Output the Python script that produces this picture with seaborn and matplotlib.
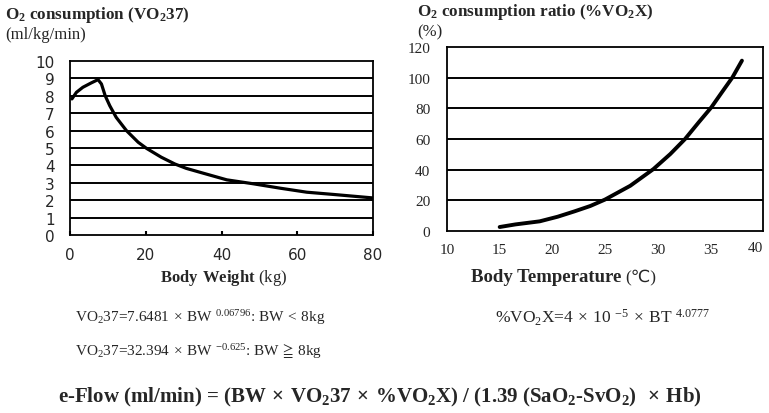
import numpy as np
import pandas as pd
import matplotlib
matplotlib.use("Agg")
import matplotlib.pyplot as plt
import seaborn as sns

# values
bw = [0.5, 1.7, 3.4, 5.6, 7.4, 8.3, 9.3, 10.5, 12.2, 14.9, 18.0, 20.2, 24.1, 27.7,
      30.7, 34.4, 41.4, 48.5, 55.5, 62.5, 69.6, 80.0]
vo2_37 = [7.82, 8.2, 8.49, 8.74, 8.93, 8.68, 8.0, 7.43, 6.76, 6.0, 5.33, 4.98, 4.47, 4.08,
          3.83, 3.6, 3.17, 2.94, 2.69, 2.46, 2.33, 2.13]
bt = [15.0, 16.5, 18.8, 20.5, 22.1, 23.6, 25.0, 27.4, 29.6, 31.2, 32.6, 33.9, 35.1,
      36.1, 37.1, 38.0]
vo2x = [2.6, 4.3, 6.3, 9.3, 12.8, 16.3, 20.5, 29.5, 40.4, 50.2, 60.0, 70.9, 80.7,
        90.5, 100.2, 111.1]

left_yticks = list(range(0, 11))
left_xticks = [0, 20, 40, 60, 80]
right_yticks = [0, 20, 40, 60, 80, 100, 120]
right_xticks = [10, 15, 20, 25, 30, 35, 40]

sns.set_theme(style="white")
plt.rcParams["font.family"] = ["Liberation Serif", "DejaVu Serif"]
plt.rcParams["mathtext.fontset"] = "custom"
plt.rcParams["mathtext.rm"] = "Liberation Serif"
plt.rcParams["mathtext.bf"] = "Liberation Serif:bold"
plt.rcParams["mathtext.default"] = "regular"
plt.rcParams["mathtext.fallback"] = "stix"

W, H = 769, 414
fig = plt.figure(figsize=(W / 100, H / 100), dpi=100)

def box(x0, y0, x1, y1):
    return [x0 / W, 1 - y1 / H, (x1 - x0) / W, (y1 - y0) / H]

df1 = pd.DataFrame({"bw": bw, "vo2": vo2_37})
df2 = pd.DataFrame({"bt": bt, "pct": vo2x})

# left chart
ax1 = fig.add_axes(box(70, 62, 373, 236))
sns.lineplot(data=df1, x="bw", y="vo2", ax=ax1, color="black", lw=2.3)
ax1.set_xlim(0, 80)
ax1.set_ylim(0, 10)
ax1.set_yticks(left_yticks)
ax1.set_xticks(left_xticks)
for v in left_yticks[1:-1]:
    ax1.axhline(v, color="black", lw=1.4, zorder=0)
ax1.set_xlabel("")
ax1.set_ylabel("")
for lab in ax1.get_xticklabels() + ax1.get_yticklabels():
    lab.set_family("DejaVu Sans")
    lab.set_fontsize(11)
ax1.tick_params(axis="x", bottom=True, direction="in", length=3, width=1.5, pad=9, color="black")
ax1.tick_params(axis="y", left=False, pad=5)
for s in ax1.spines.values():
    s.set_color("black")
    s.set_linewidth(1.3)

# right chart
ax2 = fig.add_axes(box(447, 48, 763, 232))
sns.lineplot(data=df2, x="bt", y="pct", ax=ax2, color="black", lw=2.8)
ax2.set_xlim(10, 40)
ax2.set_ylim(0, 120)
ax2.set_yticks(right_yticks)
ax2.set_xticks(right_xticks)
for v in right_yticks[1:-1]:
    ax2.axhline(v, color="black", lw=1.4, zorder=0)
ax2.set_xlabel("")
ax2.set_ylabel("")
for lab in ax2.get_xticklabels() + ax2.get_yticklabels():
    lab.set_fontsize(11)
ax2.tick_params(axis="x", bottom=False, pad=3)
ax2.tick_params(axis="y", left=False, pad=6)
# last x label sits inside the figure edge, a bit raised, as in the reference
last = ax2.get_xticklabels()[-1]
last.set_horizontalalignment("right")
last.set_y(0.012)
for s in ax2.spines.values():
    s.set_color("black")
    s.set_linewidth(1.3)

def ftext(x, y, s, **kw):
    fig.text(x / W, 1 - y / H, s, **kw)

X = r"$\hspace{0.12}\times\hspace{0.12}$"

ftext(5, 15, r"O$_2$ consumption (VO$_2$37)", fontsize=12.3, fontweight="bold", va="center")
ftext(5, 35, "(ml/kg/min)", fontsize=12, va="center")
ftext(417, 12, r"O$_2$ consumption ratio (%VO$_2$X)", fontsize=12.3, fontweight="bold", va="center")
ftext(417, 32, "(%)", fontsize=12, va="center")

ftext(224, 278, r"$\mathbf{Body\ Weight}$ (kg)", fontsize=12, ha="center", va="center")
ftext(621, 278, "Body Temperature", fontsize=13.5, fontweight="bold", ha="right", va="center")
ftext(625, 278, "(\u2103)", fontsize=12.5, ha="left", va="center",
      family=["Liberation Serif", "DejaVu Sans"])

ftext(75, 318, "VO$_2$37=7.6481" + X + r"BW $^{0.06796}$: BW$\hspace{0.12}<\hspace{0.12}$8kg",
      fontsize=11, va="center")
ftext(75, 352, "VO$_2$37=32.394" + X + r"BW $^{-0.625}$: BW$\hspace{0.12}\geqq\hspace{0.08}$8kg",
      fontsize=11, va="center")
ftext(495, 318, "%VO$_2$X=4" + X + "10 $^{-5}$" + X + "BT $^{4.0777}$", fontsize=12.5, va="center")
ftext(58, 397, "e-Flow (ml/min) = (BW" + X + "VO$_2$37" + X + "%VO$_2$X) / (1.39 (SaO$_2$-SvO$_2$) "
      + X + "Hb)", fontsize=15, fontweight="bold", va="center")

fig.savefig("out.png", dpi=100)
